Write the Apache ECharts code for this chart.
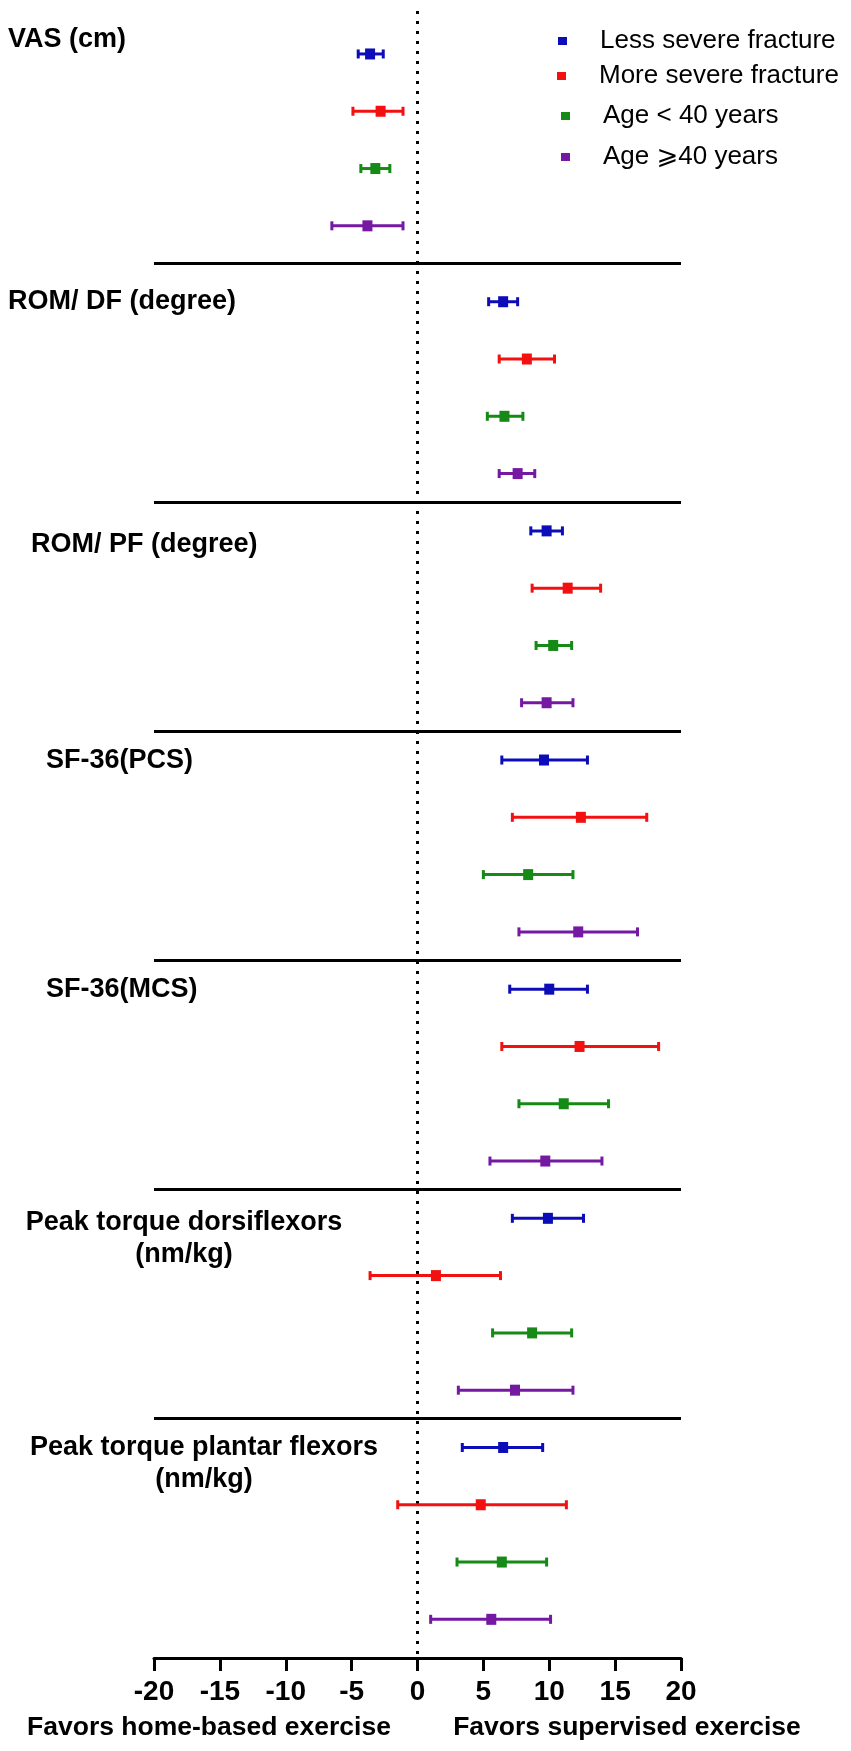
<!DOCTYPE html>
<html>
<head>
<meta charset="utf-8">
<script src="https://cdn.jsdelivr.net/npm/echarts@6/dist/echarts.min.js"></script>
<style>
  html, body { margin: 0; padding: 0; background: #fff; }
  #main { width: 851px; height: 1751px; }
</style>
</head>
<body>
<div id="main"></div>
<script>
var chartDom = document.getElementById('main');
var myChart = echarts.init(chartDom);

// outcomes (one block of four rows each)
var outcomes = ['VAS (cm)', 'ROM/ DF (degree)', 'ROM/ PF (degree)', 'SF-36(PCS)', 'SF-36(MCS)',
  'Peak torque dorsiflexors\n(nm/kg)', 'Peak torque plantar flexors\n(nm/kg)'];
var subgroups = ['Less severe fracture', 'More severe fracture', 'Age < 40 years', 'Age \u2A7E40 years'];

// mean difference and 95% CI per subgroup
var lessMean = [-3.6, 6.5, 9.8, 9.6, 10.0, 9.9, 6.5];
var lessLow = [-4.5, 5.4, 8.6, 6.4, 7.0, 7.2, 3.4];
var lessHigh = [-2.6, 7.6, 11.0, 12.9, 12.9, 12.6, 9.5];

var moreMean = [-2.8, 8.3, 11.4, 12.4, 12.3, 1.4, 4.8];
var moreLow = [-4.9, 6.2, 8.7, 7.2, 6.4, -3.6, -1.5];
var moreHigh = [-1.1, 10.4, 13.9, 17.4, 18.3, 6.3, 11.3];

var youngMean = [-3.2, 6.6, 10.3, 8.4, 11.1, 8.7, 6.4];
var youngLow = [-4.3, 5.3, 9.0, 5.0, 7.7, 5.7, 3.0];
var youngHigh = [-2.1, 8.0, 11.7, 11.8, 14.5, 11.7, 9.8];

var oldMean = [-3.8, 7.6, 9.8, 12.2, 9.7, 7.4, 5.6];
var oldLow = [-6.5, 6.2, 7.9, 7.7, 5.5, 3.1, 1.0];
var oldHigh = [-1.1, 8.9, 11.8, 16.7, 14.0, 11.8, 10.1];

var xTicks = [-20, -15, -10, -5, 0, 5, 10, 15, 20];
var xNames = ['Favors home-based exercise', 'Favors supervised exercise'];

var colors = ['#0c0cb8', '#f21010', '#168a16', '#7518a2'];
var FONT = '"Liberation Sans", Arial, "DejaVu Sans", sans-serif';

// row position on the hidden y axis
function rowPos(g, s) {
  return g * 4 + s + (g > 0 ? 0.325 : 0);
}

var allMean = [lessMean, moreMean, youngMean, oldMean];
var allLow = [lessLow, moreLow, youngLow, oldLow];
var allHigh = [lessHigh, moreHigh, youngHigh, oldHigh];

function seriesData(s) {
  return outcomes.map(function (o, g) {
    return [rowPos(g, s), allMean[s][g], allLow[s][g], allHigh[s][g]];
  });
}

function renderBar(params, api) {
  var y = api.value(0);
  var c = api.coord([api.value(1), y]);
  var lo = api.coord([api.value(2), y]);
  var hi = api.coord([api.value(3), y]);
  var color = api.visual('color');
  var st = { stroke: color, lineWidth: 3 };
  return {
    type: 'group',
    children: [
      { type: 'line', shape: { x1: lo[0], y1: lo[1], x2: hi[0], y2: hi[1] }, style: st },
      { type: 'line', shape: { x1: lo[0], y1: lo[1] - 4.5, x2: lo[0], y2: lo[1] + 4.5 }, style: st },
      { type: 'line', shape: { x1: hi[0], y1: hi[1] - 4.5, x2: hi[0], y2: hi[1] + 4.5 }, style: st },
      { type: 'rect', shape: { x: c[0] - 5, y: c[1] - 5.5, width: 10, height: 11 }, style: { fill: color } }
    ]
  };
}

var separators = outcomes.slice(1).map(function (o, i) {
  var g = i + 1;
  return { yAxis: g === 1 ? 3.66 : g * 4 - 0.175 };
});

var series = subgroups.map(function (name, s) {
  var item = {
    name: name,
    type: 'custom',
    renderItem: renderBar,
    itemStyle: { color: colors[s] },
    encode: { x: [1, 2, 3], y: 0 },
    data: seriesData(s),
    z: 5
  };
  if (s === 0) {
    item.markLine = {
      silent: true,
      symbol: 'none',
      label: { show: false },
      lineStyle: { color: '#000', width: 3, type: 'solid' },
      data: separators
    };
  }
  if (s === 1) {
    item.markLine = {
      silent: true,
      symbol: 'none',
      label: { show: false },
      lineStyle: { color: '#000', width: 3, type: [3, 7] },
      data: [{ xAxis: 0 }]
    };
  }
  return item;
});

// legend layout
var legendLeft = [553, 552, 556, 556];
var legendMid = [41, 76, 116, 157];
var legends = subgroups.map(function (name, s) {
  return {
    data: [name],
    left: legendLeft[s],
    top: legendMid[s] - 20,
    icon: 'rect',
    itemWidth: 9,
    itemHeight: 8,
    selectedMode: false,
    formatter: function (n) { return '{g| }' + n; },
    textStyle: {
      fontFamily: FONT, fontSize: 26, color: '#000', lineHeight: 30,
      rich: { g: { width: 28, fontSize: 26, lineHeight: 30 } }
    }
  };
});

// outcome labels layout
var labelX = [8, 8, 31, 46, 46, 184, 204];
var labelY = [40, 302, 545, 761, 990, 1239, 1464];
var labelAlign = ['left', 'left', 'left', 'left', 'left', 'center', 'center'];

var graphics = outcomes.map(function (t, g) {
  return {
    type: 'text',
    x: labelX[g],
    y: labelY[g],
    style: {
      text: t,
      font: 'bold 27px ' + FONT,
      fill: '#000',
      align: labelAlign[g],
      verticalAlign: 'middle',
      lineHeight: 32
    }
  };
});
var nameX = [209, 627];
xNames.forEach(function (t, i) {
  graphics.push({
    type: 'text',
    x: nameX[i],
    y: 1728,
    style: {
      text: t,
      font: 'bold 26.5px ' + FONT,
      fill: '#000',
      align: 'center',
      verticalAlign: 'middle'
    }
  });
});

var option = {
  animation: false,
  backgroundColor: '#fff',
  legend: legends,
  grid: { left: 154, right: 170, top: 11, bottom: 93 },
  xAxis: {
    type: 'value',
    min: xTicks[0],
    max: xTicks[xTicks.length - 1],
    interval: 5,
    splitLine: { show: false },
    axisLine: { show: true, onZero: false, lineStyle: { color: '#000', width: 3 } },
    axisTick: { show: true, length: 13, lineStyle: { color: '#000', width: 3 } },
    axisLabel: {
      margin: 20,
      color: '#000',
      fontFamily: FONT,
      fontWeight: 'bold',
      fontSize: 28
    }
  },
  yAxis: {
    type: 'value',
    inverse: true,
    min: -0.75,
    max: 28,
    show: false
  },
  graphic: graphics,
  series: series
};

option && myChart.setOption(option);
</script>
</body>
</html>
